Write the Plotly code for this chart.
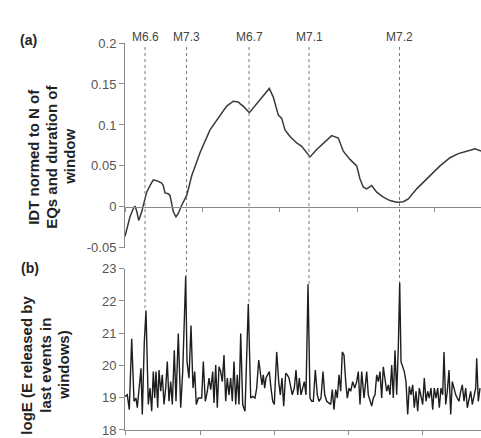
import plotly.graph_objects as go

# ---------------- data ----------------
# (a) IDT normed to N of EQs and duration of window
idt_x = [0, 1.7, 5, 8.3, 10, 11.7, 13.7, 16.7, 19, 21.7, 25, 28.3, 31.7, 36.7, 38.3, 40, 43.3,
         45, 46.7, 48.3, 51, 53.3, 56.7, 61.7, 66.7, 75, 85, 95, 101.7, 108.3, 113.3, 115, 119,
         124.3, 131.7, 138.3, 144.3, 148.3, 153.3, 156.7, 160, 165, 171.7, 176.7, 181.7, 185,
         191.7, 200, 206.7, 213.3, 218.3, 225, 231.7, 235, 238.3, 241.7, 246.7, 251.7, 258.3,
         265, 271.7, 278.3, 283.3, 291.7, 301.7, 315, 325, 333.3, 341.7, 350, 356]
idt_y = [-0.036, -0.027, -0.012, -0.002, 0.001, -0.005, -0.0165, -0.006, 0.006, 0.018, 0.026,
         0.033, 0.032, 0.029, 0.026, 0.017, 0.016, 0.014, 0.004, -0.006, -0.012, -0.008, 0.002,
         0.014, 0.038, 0.066, 0.094, 0.112, 0.123, 0.129, 0.128, 0.126, 0.122, 0.115, 0.126,
         0.136, 0.1445, 0.134, 0.112, 0.108, 0.094, 0.086, 0.078, 0.074, 0.066, 0.061, 0.070,
         0.080, 0.087, 0.084, 0.068, 0.058, 0.050, 0.034, 0.024, 0.022, 0.026, 0.018, 0.012,
         0.0077, 0.0056, 0.0064, 0.0097, 0.022, 0.034, 0.050, 0.060, 0.065, 0.068, 0.071, 0.068]

# (b) logE (E released by last events in windows)
loge_x = [0, 2.3, 4.3, 6.7, 9, 11, 12.3, 14.3, 16, 17.3, 19.3, 21, 23.3, 25, 26.7, 28.3, 29.7, 31,
          32.7, 34, 35.7, 37.3, 39, 40.7, 42.3, 44, 45.7, 47.3, 49.3, 51, 53.3, 55.7, 57.7, 60.7,
          62, 64, 66, 68, 69.7, 71.3, 73.3, 75, 76.7, 78.3, 80.3, 82.3, 84, 85.7, 87.7, 89, 90.7,
          92.3, 94, 95.7, 97.3, 99, 100.7, 102.3, 104, 105.7, 107.3, 109, 110.7, 112.3, 114,
          115.7, 117.7, 120, 121.7, 123.3, 125.7, 127.7, 130, 131.7, 133.7, 135.3, 137, 138.3,
          139.7, 141, 142.7, 144.3, 146, 147.7, 149.3, 151.7, 153.7, 155.3, 157, 158.7, 160.7,
          162.3, 164, 165.7, 167.3, 169.3, 171, 172.7, 174.3, 176, 177.7, 179.3, 181, 183, 185,
          186.7, 188.3, 190.3, 192.3, 194, 196, 198, 199.7, 201.7, 203.7, 205.7, 207.3, 209,
          210.7, 212.3, 214, 215.7, 217.3, 219, 220.7, 222.3, 224, 225.7, 227.7, 229.7, 231.7,
          233.3, 235, 236.7, 239, 240, 241.7, 243.3, 245, 246.7, 248.3, 250, 251.7, 253.3, 255,
          256.7, 258.3, 260, 261.7, 263.3, 265, 266.7, 268.3, 270, 271.7, 273.3, 274.7, 276,
          277.3, 279.3, 281, 282.7, 284.3, 286, 287.7, 289.3, 291, 292.7, 294.3, 296, 297.7,
          299.3, 301, 302.7, 304.3, 306, 307.7, 309.3, 311, 312.7, 314.3, 316, 317.7, 319, 320.7,
          322.3, 324, 325.7, 327.3, 329, 330.7, 332.3, 334, 335.7, 337.3, 339, 340.7, 342.3, 344,
          345.7, 347.3, 349, 350.7, 351.7, 353.3, 355]
loge_y = [19.04, 19.09, 18.63, 20.83, 18.89, 18.99, 18.69, 19.30, 19.91, 18.48, 20.73, 21.70,
          18.79, 19.30, 18.58, 19.81, 18.99, 19.81, 18.69, 19.86, 19.20, 19.71, 18.79, 19.30,
          20.12, 18.89, 19.50, 18.79, 20.47, 18.89, 20.99, 18.69, 19.81, 22.78, 20.12, 19.61,
          21.24, 19.30, 19.81, 18.79, 18.99, 18.99, 18.99, 20.12, 18.89, 19.20, 19.61, 19.25,
          19.81, 18.84, 20.01, 18.69, 19.96, 19.81, 19.50, 20.32, 18.89, 19.61, 19.09, 19.61,
          18.89, 20.12, 18.79, 19.71, 18.79, 20.99, 18.79, 18.58, 20.12, 21.91, 18.99, 19.04,
          18.99, 19.30, 20.17, 19.81, 19.40, 19.71, 19.30, 19.61, 19.71, 19.81, 19.30, 18.89,
          18.79, 20.42, 19.50, 19.09, 19.61, 18.74, 19.76, 19.71, 19.61, 19.30, 19.09, 19.30,
          19.86, 19.09, 19.61, 19.09, 19.30, 19.50, 19.09, 22.52, 18.99, 18.89, 18.89, 19.86,
          19.09, 18.89, 18.99, 19.81, 19.09, 18.89, 18.84, 18.79, 19.25, 18.63, 19.25, 18.99,
          19.71, 19.20, 20.42, 20.32, 19.50, 18.99, 19.30, 19.20, 19.50, 19.30, 19.50, 19.81,
          18.79, 19.81, 18.99, 19.30, 19.81, 19.09, 18.89, 18.74, 18.99, 19.09, 19.71, 19.50,
          19.81, 18.99, 19.96, 19.61, 19.20, 19.40, 19.09, 20.01, 18.99, 20.47, 19.09, 20.53,
          22.57, 20.12, 20.01, 19.81, 19.50, 18.48, 19.35, 19.09, 19.40, 18.69, 19.20, 18.58,
          19.30, 18.99, 18.79, 19.61, 18.89, 19.20, 18.99, 19.30, 18.63, 19.30, 18.99, 19.30,
          18.69, 19.30, 19.09, 20.42, 18.79, 19.20, 19.86, 18.48, 19.50, 19.30, 19.09, 18.99,
          18.89, 19.20, 19.40, 18.89, 19.30, 18.69, 18.99, 19.20, 18.79, 19.09, 19.30, 20.22,
          18.89, 19.30]

# earthquakes marked by dotted lines
eq_labels = ["M6.6", "M7.3", "M6.7", "M7.1", "M7.2"]
eq_x = [20, 61.5, 124, 184, 274.5]
eq_peak = [21.70, 22.78, 21.91, 22.52, 22.57]

top_ticks = [0, 77, 154, 232, 309]
bot_ticks = [0, 75, 149, 223, 297]
idt_ticks = [-0.05, 0, 0.05, 0.1, 0.15, 0.2]
idt_ticktext = ["-0.05", "0", "0.05", "0.1", "0.15", "0.2"]
loge_ticks = [18, 19, 20, 21, 22, 23]

# ---------------- layout geometry ----------------
W, H = 481, 438
ML, MR, MT, MB = 125, 0, 43, 4
plot_h = H - MT - MB
plot_w = W - ML - MR
top_dom = [(434 - 250) / plot_h, 1.0]
bot_dom = [0.0, (434 - 271) / plot_h]
top_rng = [-0.05, 0.2]
bot_rng = [18, 23]
x_rng = [0, 356]


def px_to_paper_x(px):
    return (px - ML) / plot_w


def px_to_paper_y(py):
    return (H - MB - py) / plot_h


def top_val_to_paper(v):
    return top_dom[0] + (v - top_rng[0]) / (top_rng[1] - top_rng[0]) * (top_dom[1] - top_dom[0])


def bot_val_to_paper(v):
    return bot_dom[0] + (v - bot_rng[0]) / (bot_rng[1] - bot_rng[0]) * (bot_dom[1] - bot_dom[0])


FONT = "Liberation Sans, Arial, sans-serif"
AX_COL = "#8a8a8a"
TXT_COL = "#555555"

fig = go.Figure()
fig.add_trace(go.Scatter(x=idt_x, y=idt_y, mode="lines", xaxis="x", yaxis="y",
                         line=dict(color="#3a3a3a", width=1.5), showlegend=False))
fig.add_trace(go.Scatter(x=loge_x, y=loge_y, mode="lines", xaxis="x2", yaxis="y2",
                         line=dict(color="#1e1e1e", width=1.4), showlegend=False))

shapes = []
for ex, pk in zip(eq_x, eq_peak):
    shapes.append(dict(type="line", xref="x", yref="paper", x0=ex, x1=ex,
                       y0=px_to_paper_y(47), y1=bot_val_to_paper(pk),
                       line=dict(color="#7a7a7a", width=1, dash="dot")))

annotations = []
for lab, ex in zip(eq_labels, eq_x):
    annotations.append(dict(text=lab, x=ex, xref="x", y=px_to_paper_y(37), yref="paper",
                            showarrow=False, xanchor="center", yanchor="middle",
                            font=dict(family=FONT, size=12, color="#444444")))

annotations.append(dict(text="<b>(a)</b>", x=px_to_paper_x(28), y=px_to_paper_y(40),
                        xref="paper", yref="paper", showarrow=False,
                        xanchor="center", yanchor="middle",
                        font=dict(family=FONT, size=14, color="#222222")))
annotations.append(dict(text="<b>(b)</b>", x=px_to_paper_x(30), y=px_to_paper_y(270),
                        xref="paper", yref="paper", showarrow=False,
                        xanchor="center", yanchor="middle",
                        font=dict(family=FONT, size=14, color="#222222")))

top_title = ["IDT normed to N of", "EQs and duration of", "window"]
top_title_x = [34, 52, 70]
for t, tx in zip(top_title, top_title_x):
    annotations.append(dict(text="<b>" + t + "</b>", x=px_to_paper_x(tx), y=px_to_paper_y(158),
                            xref="paper", yref="paper", showarrow=False, textangle=-90,
                            xanchor="center", yanchor="middle",
                            font=dict(family=FONT, size=15, color="#222222")))

bot_title = ["logE (E released by", "last events in", "windows)"]
bot_title_x = [27, 46, 64]
for t, tx in zip(bot_title, bot_title_x):
    annotations.append(dict(text="<b>" + t + "</b>", x=px_to_paper_x(tx), y=px_to_paper_y(369),
                            xref="paper", yref="paper", showarrow=False, textangle=-90,
                            xanchor="center", yanchor="middle",
                            font=dict(family=FONT, size=15, color="#222222")))

axis_common = dict(showgrid=False, zeroline=False, showline=True, linecolor=AX_COL,
                   linewidth=1, ticks="outside", tickcolor=AX_COL,
                   tickfont=dict(family=FONT, size=13, color=TXT_COL))

fig.update_layout(
    width=W, height=H,
    margin=dict(l=ML, r=MR, t=MT, b=MB, pad=0),
    paper_bgcolor="white", plot_bgcolor="white",
    xaxis=dict(**axis_common, range=x_rng, domain=[0, 1], anchor="free",
               position=top_val_to_paper(0), tickvals=top_ticks, showticklabels=False,
               ticklen=4),
    yaxis=dict(**axis_common, range=top_rng, domain=top_dom, anchor="x",
               tickvals=idt_ticks, ticktext=idt_ticktext, ticklen=5),
    xaxis2=dict(**axis_common, range=x_rng, domain=[0, 1], anchor="y2",
                tickvals=bot_ticks, showticklabels=False, ticklen=4),
    yaxis2=dict(**axis_common, range=bot_rng, domain=bot_dom, anchor="x2",
                tickvals=loge_ticks, ticklen=5),
    shapes=shapes,
    annotations=annotations,
)

fig.write_html("out.html")
